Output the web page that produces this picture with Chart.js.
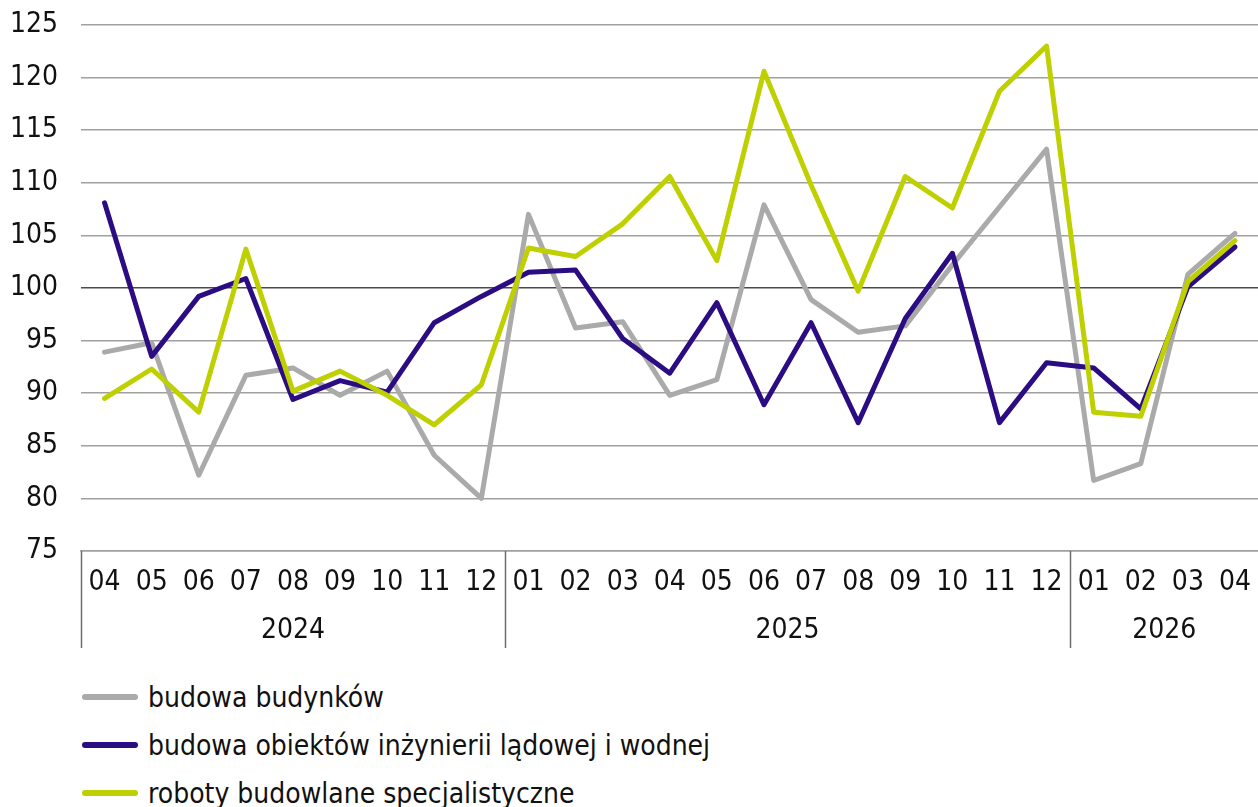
<!DOCTYPE html>
<html lang="pl">
<head>
<meta charset="utf-8">
<script src="https://cdn.jsdelivr.net/npm/chart.js@4.4.1/dist/chart.umd.min.js"></script>
<style>
    html, body {
        margin: 0;
        padding: 0;
        background: #ffffff;
        width: 1258px;
        height: 807px;
        overflow: hidden;
        font-family: "Liberation Sans Narrow", "DejaVu Sans Condensed", "Liberation Sans", sans-serif;
    }
    #wrap {
        position: relative;
        width: 1258px;
        height: 660px;
        overflow: hidden;
    }
    #legend {
        position: absolute;
        left: 82px;
        top: 673px;
    }
    .legend-item {
        display: flex;
        align-items: center;
        height: 48px;
        font-size: 28px;
        color: #111111;
    }
    .legend-swatch {
        width: 56px;
        height: 6px;
        border-radius: 3px;
        margin-right: 10px;
    }
</style>
</head>
<body>
<div id="wrap"><canvas id="chart" width="1266" height="660"></canvas></div>
<div id="legend"></div>
<script>
// Months (04.2024 - 04.2026)
const months = ['04', '05', '06', '07', '08', '09', '10', '11', '12',
    '01', '02', '03', '04', '05', '06', '07', '08', '09', '10', '11', '12',
    '01', '02', '03', '04'];
const years = ['2024', '2024', '2024', '2024', '2024', '2024', '2024', '2024', '2024',
    '2025', '2025', '2025', '2025', '2025', '2025', '2025', '2025', '2025', '2025', '2025', '2025',
    '2026', '2026', '2026', '2026'];

const budynki = [93.9, 94.8, 82.2, 91.7, 92.4, 89.8, 92.1, 84.1, 80.0,
    107.0, 96.2, 96.8, 89.8, 91.3, 107.9, 98.9, 95.8, 96.4, 102.2, 107.7, 113.2,
    81.7, 83.3, 101.3, 105.2];
const inzynieria = [108.1, 93.5, 99.2, 100.9, 89.4, 91.2, 90.1, 96.7, 99.2,
    101.5, 101.7, 95.2, 91.9, 98.6, 88.9, 96.7, 87.2, 97.1, 103.3, 87.2, 92.9,
    92.4, 88.5, 100.1, 103.9];
const specjalistyczne = [89.5, 92.3, 88.2, 103.7, 90.2, 92.1, 89.8, 87.0, 90.8,
    103.8, 103.0, 106.1, 110.6, 102.6, 120.6, 109.8, 99.7, 110.6, 107.6, 118.7, 123.0,
    88.2, 87.8, 100.6, 104.5];

const yTicks = [75, 80, 85, 90, 95, 100, 105, 110, 115, 120, 125];

const FONT_FAMILY = '"Liberation Sans Narrow", "DejaVu Sans Condensed", "Liberation Sans", sans-serif';

// Year groups + separators under the month labels
const yearGroupsPlugin = {
    id: 'yearGroups',
    afterDraw(chart) {
        const ctx = chart.ctx;
        const x = chart.scales.x;
        const area = chart.chartArea;
        const half = (x.getPixelForValue(1) - x.getPixelForValue(0)) / 2;
        const bottom = area.bottom + 97;

        ctx.save();
        ctx.strokeStyle = '#6e6e6e';
        ctx.lineWidth = 1.5;
        ctx.fillStyle = '#111111';
        ctx.font = '28px ' + FONT_FAMILY;
        ctx.textAlign = 'center';
        ctx.textBaseline = 'middle';

        let start = 0;
        for (let i = 1; i <= years.length; i++) {
            if (i === years.length || years[i] !== years[start]) {
                const left = x.getPixelForValue(start) - half;
                const right = x.getPixelForValue(i - 1) + half;
                ctx.beginPath();
                ctx.moveTo(Math.round(left) + 0.5, area.bottom);
                ctx.lineTo(Math.round(left) + 0.5, bottom);
                ctx.stroke();
                ctx.fillText(years[start], (left + right) / 2, area.bottom + 80);
                start = i;
            }
        }
        ctx.restore();
    }
};

const ctx = document.getElementById('chart');

new Chart(ctx, {
    type: 'line',
    data: {
        labels: months,
        datasets: [
            {
                label: 'budowa budynków',
                data: budynki,
                borderColor: '#aaaaaa',
                order: 3
            },
            {
                label: 'budowa obiektów inżynierii lądowej i wodnej',
                data: inzynieria,
                borderColor: '#2b0c82',
                order: 2
            },
            {
                label: 'roboty budowlane specjalistyczne',
                data: specjalistyczne,
                borderColor: '#bfd000',
                order: 1
            }
        ]
    },
    options: {
        responsive: false,
        animation: false,
        layout: {
            padding: { top: 25, right: 0, bottom: 0, left: 0 }
        },
        elements: {
            line: {
                borderWidth: 5,
                tension: 0,
                borderCapStyle: 'round',
                borderJoinStyle: 'round',
                fill: false
            },
            point: {
                radius: 0,
                hoverRadius: 0
            }
        },
        plugins: {
            legend: { display: false },
            tooltip: { enabled: false }
        },
        scales: {
            x: {
                offset: true,
                grid: {
                    display: false,
                    drawTicks: false
                },
                border: {
                    display: true,
                    color: '#a0a0a0',
                    width: 1.5
                },
                ticks: {
                    color: '#111111',
                    padding: 15,
                    maxRotation: 0,
                    autoSkip: false,
                    font: { family: FONT_FAMILY, size: 28 }
                },
                afterFit(scale) {
                    scale.height = 109;
                }
            },
            y: {
                min: 75,
                max: 125,
                afterBuildTicks(scale) {
                    scale.ticks = yTicks.map(v => ({ value: v }));
                },
                grid: {
                    drawTicks: false,
                    lineWidth: 1.5,
                    color: function (c) {
                        if (c.tick && c.tick.value === 100) return '#4a4a4a';
                        return '#a0a0a0';
                    }
                },
                border: { display: false },
                ticks: {
                    color: '#111111',
                    padding: 23,
                    font: { family: FONT_FAMILY, size: 28 }
                },
                afterFit(scale) {
                    scale.width = 81;
                    scale.paddingTop = 0;
                    scale.paddingBottom = 0;
                }
            }
        }
    },
    plugins: [yearGroupsPlugin]
});

// Legend (one item per row, below the chart)
const legendColors = ['#aaaaaa', '#2b0c82', '#bfd000'];
const legendLabels = ['budowa budynków', 'budowa obiektów inżynierii lądowej i wodnej', 'roboty budowlane specjalistyczne'];
document.getElementById('legend').innerHTML = legendLabels.map((label, i) => `
    <div class="legend-item">
        <span class="legend-swatch" style="background:${legendColors[i]}"></span>
        <span>${label}</span>
    </div>
`).join('');
</script>
</body>
</html>
